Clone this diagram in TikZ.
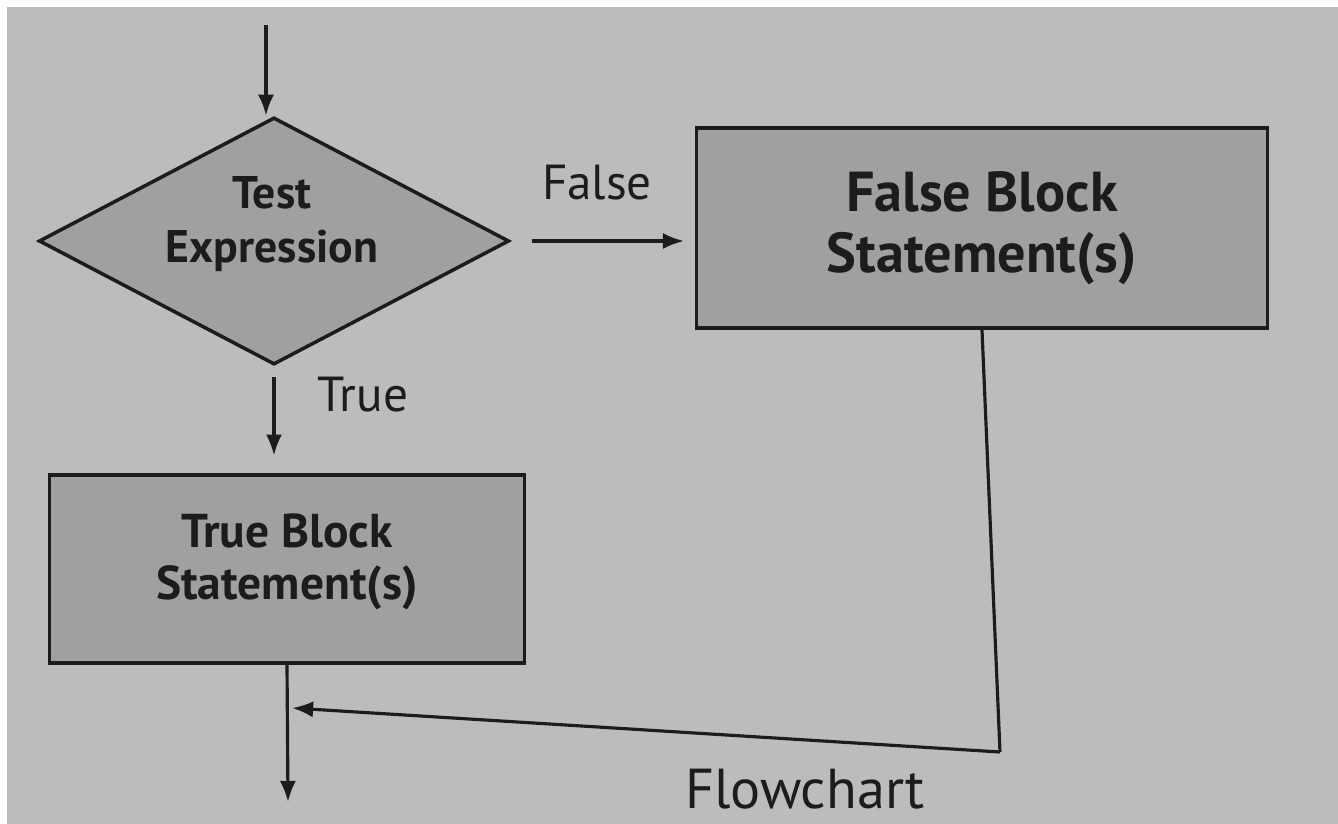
\documentclass[tikz,border=0pt]{standalone}
\usepackage{fontspec}
\setmainfont{PT Sans}
\usetikzlibrary{shapes.geometric,arrows.meta}
\definecolor{bgc}{RGB}{188,188,188}
\definecolor{boxc}{RGB}{160,160,160}
\definecolor{inkc}{RGB}{28,28,28}
\tikzset{
  conn/.style={draw=inkc, line width=0.9pt, -{Latex[length=6pt,width=4.6pt]}},
  plain/.style={draw=inkc, line width=0.9pt},
  blockbox/.style={draw=inkc, line width=1pt, fill=boxc, rectangle, align=center, inner sep=0pt, text=inkc},
  decis/.style={draw=inkc, line width=1pt, fill=boxc, diamond, inner sep=0pt, aspect=1.9},
  lbl/.style={text=inkc, inner sep=0pt, align=center}
}
\begin{document}
\begin{tikzpicture}[x=0.01cm,y=-0.01cm]
\fill[bgc] (0,0) rectangle (1338,824);
\fill[white] (0,0) rectangle (1338,7);
\fill[white] (0,0) rectangle (7,824);
\useasboundingbox (0,0) rectangle (1338,824);
\coordinate (start) at (266,25);
\node[decis, minimum width=4.7cm, minimum height=2.47cm] (test) at (274,241) {};
\node[lbl, font=\fontsize{13}{15.5}\selectfont\bfseries] (testtxt) at (272,224) {Test\\Expression};
\node[blockbox, minimum width=5.71cm, minimum height=2.0cm, font=\fontsize{16}{17.5}\selectfont\bfseries] (fblock) at (982,228) {False Block\\Statement(s)};
\node[blockbox, minimum width=4.75cm, minimum height=1.88cm, font=\fontsize{13.5}{15}\selectfont\bfseries] (tblock) at (287,569) {True Block\\Statement(s)\\[-8pt]\mbox{}};
\coordinate (endpt) at (288,802);
\coordinate (corner) at (1000,752);
\coordinate (join) at (292,708);
\node[lbl, font=\fontsize{14}{16}\selectfont] (flabel) at (597,183) {False};
\node[lbl, font=\fontsize{14}{16}\selectfont] (tlabel) at (363,395) {True};
\node[lbl, font=\fontsize{16}{18}\selectfont] (caption) at (805,789) {Flowchart};
\draw[conn] (start) -- (start |- test.north);
\draw[conn, shorten <=6pt, shorten >=3pt] (test.east) -- (test.east -| fblock.west);
\draw[conn, shorten <=3pt, shorten >=5pt] (test.south) -- (test.south |- tblock.north);
\draw[conn] (tblock.south) -- (endpt);
\draw[plain] (fblock.south) -- (corner);
\draw[conn] (corner) -- (join);
\end{tikzpicture}
\end{document}
